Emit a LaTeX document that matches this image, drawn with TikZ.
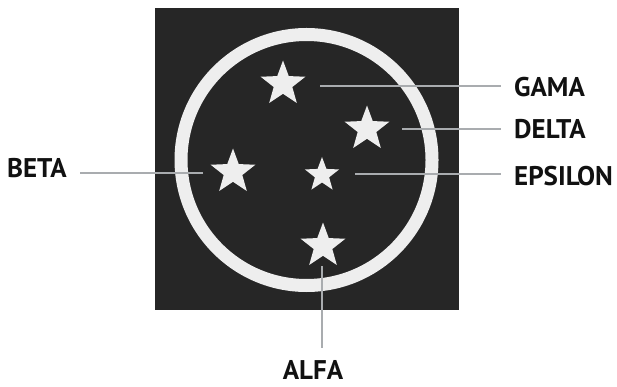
\documentclass[tikz,border=0pt]{standalone}
\usepackage{fontspec}
\setmainfont{PT Sans}
\usetikzlibrary{shapes.geometric, positioning}
\definecolor{nightsky}{HTML}{262626}
\definecolor{starwhite}{HTML}{EEEEEE}
\definecolor{leadgray}{HTML}{A9ACAF}
\definecolor{inkblack}{HTML}{111111}

\begin{document}
\begin{tikzpicture}[x=1pt, y=-1pt,
  starnode/.style={star, star points=5, star point ratio=2.4,
    fill=starwhite, draw=none, inner sep=0pt, minimum size=#1},
  starnode/.default=47pt,
  leader/.style={leadgray, line width=2.2pt},
  tag/.style={text=inkblack, font=\fontsize{27}{27}\selectfont\bfseries, inner sep=0pt}]

% Canvas
\useasboundingbox (0,0) rectangle (617,387);

% Dark square and ring
\fill[nightsky] (155,8) rectangle (459,310);
\draw[starwhite, line width=13pt] (306.5,160) circle (125.5pt);

% Stars
\node[starnode] (gama) at (283,84) {};
\node[starnode] (delta) at (367,129) {};
\node[starnode] (beta) at (233,172) {};
\node[starnode=36pt] (epsilon) at (322,175) {};
\node[starnode] (alfa) at (323,246) {};

% Leader feet
\coordinate (gamaFoot) at ([xshift=37pt,yshift=-2pt]gama.center);
\coordinate (deltaFoot) at ([xshift=35pt]delta.center);
\coordinate (epsilonFoot) at ([xshift=33pt,yshift=1pt]epsilon.center);
\coordinate (betaFoot) at ([xshift=-30pt,yshift=-1pt]beta.center);
\coordinate (alfaFoot) at ([xshift=-1pt,yshift=-20pt]alfa.center);

% Labels
\node[tag, anchor=west] (gamaTag) at (514,87) {GAMA};
\node[tag, anchor=west] (deltaTag) at (514,129.5) {DELTA};
\node[tag, anchor=west] (epsilonTag) at (514,176) {EPSILON};
\node[tag, anchor=east] (betaTag) at (67,168.5) {BETA};
\node[tag, anchor=north] (alfaTag) at (313,360) {ALFA};

% Leaders
\draw[leader, shorten >=13pt] (gamaFoot) -- (gamaFoot -| gamaTag.west);
\draw[leader, shorten >=13pt] (deltaFoot) -- (deltaFoot -| deltaTag.west);
\draw[leader, shorten >=13pt] (epsilonFoot) -- (epsilonFoot -| epsilonTag.west);
\draw[leader, shorten >=13pt] (betaFoot) -- (betaFoot -| betaTag.east);
\draw[leader, shorten >=12pt] (alfaFoot) -- (alfaFoot |- alfaTag.north);

\end{tikzpicture}
\end{document}
